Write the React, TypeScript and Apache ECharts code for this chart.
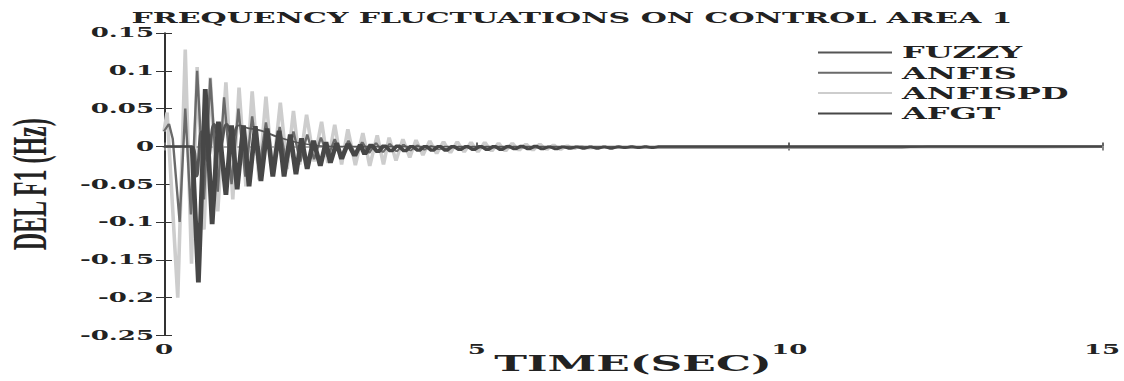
import React, { useEffect, useRef } from "react";
import * as echarts from "echarts";

const TITLE = "FREQUENCY FLUCTUATIONS ON CONTROL AREA 1";
const X_NAME = "TIME(SEC)";
const Y_NAME = "DEL F1 (Hz)";
const LEGEND_ORDER = ["FUZZY", "ANFIS", "ANFISPD", "AFGT"];

const anfispd: [number, number][] = [
  [0, 0.02], [0.05, 0.045], [0.22, -0.2], [0.34, 0.128], [0.44, -0.155], [0.53, 0.105],
  [0.64, -0.11], [0.74, 0.091], [0.86, -0.086], [0.99, 0.085], [1.1, -0.07], [1.2, 0.078],
  [1.31, -0.053], [1.41, 0.073], [1.52, -0.044], [1.63, 0.066], [1.74, -0.037], [1.86, 0.058],
  [1.97, -0.03], [2.07, 0.047], [2.17, -0.024], [2.28, 0.042], [2.4, -0.02], [2.52, 0.033],
  [2.62, -0.022], [2.73, 0.029], [2.84, -0.024], [2.94, 0.023], [3.06, -0.025], [3.18, 0.018],
  [3.29, -0.026], [3.41, 0.015], [3.51, -0.024], [3.6, 0.012], [3.71, -0.019], [3.82, 0.01],
  [3.93, -0.015], [4.03, 0.009], [4.14, -0.012], [4.25, 0.008], [4.36, -0.01], [4.47, 0.007],
  [4.58, -0.009], [4.69, 0.007], [4.8, -0.008], [4.91, 0.006], [5.02, -0.008], [5.13, 0.006],
  [5.24, -0.007], [5.35, 0.005], [5.46, -0.007], [5.57, 0.005], [5.68, -0.006], [5.79, 0.004],
  [5.9, -0.006], [6.01, 0.004], [6.12, -0.005], [6.23, 0.003], [6.34, -0.005], [6.45, 0.002],
  [6.56, -0.004], [6.67, 0.001], [6.78, -0.003], [7.0, -0.002], [14.0, -0.002], [15, -0.001],
];

const anfis: [number, number][] = [
  [0, 0.02], [0.08, 0.03], [0.14, 0.01], [0.25, -0.1], [0.34, 0.05], [0.43, -0.09], [0.53, 0.1],
  [0.64, -0.07], [0.74, 0.09], [0.86, -0.06], [0.96, 0.065], [1.08, -0.05], [1.19, 0.05],
  [1.3, -0.04], [1.41, 0.04], [1.52, -0.033], [1.63, 0.032], [1.74, -0.028], [1.85, 0.026],
  [1.96, -0.024], [2.07, 0.02], [2.18, -0.02], [2.29, 0.016], [2.4, -0.017], [2.51, 0.012],
  [2.62, -0.014], [2.73, 0.01], [2.84, -0.012], [2.95, 0.008], [3.06, -0.01], [3.17, 0.006],
  [3.28, -0.009], [3.39, 0.005], [3.5, -0.008], [3.61, 0.004], [3.72, -0.007], [3.83, 0.003],
  [3.94, -0.006], [4.05, 0.002], [4.16, -0.005], [4.27, 0.001], [4.38, -0.004], [4.6, -0.002],
  [11.8, -0.002], [12.2, 0], [15, 0],
];

const fuzzy: [number, number][] = [
  [0, 0], [0.45, 0], [0.52, -0.04], [0.6, 0.02], [0.7, -0.02], [0.8, 0.03], [0.9, 0.0],
  [1.0, 0.03], [1.1, 0.012], [1.2, 0.028], [1.35, 0.024], [1.5, 0.022], [1.65, 0.018],
  [1.8, 0.013], [2.0, 0.008], [2.2, 0.004], [2.45, 0.001], [2.7, 0], [15, 0],
];

const afgt: [number, number][] = [
  [0, 0], [0.45, 0], [0.55, -0.18], [0.66, 0.076], [0.77, -0.103], [0.87, 0.033], [0.99, -0.064],
  [1.08, 0.028], [1.17, -0.057], [1.27, 0.028], [1.36, -0.053], [1.46, 0.027], [1.55, -0.046],
  [1.65, 0.024], [1.74, -0.04], [1.84, 0.021], [1.92, -0.04], [2.02, 0.016], [2.11, -0.037],
  [2.2, 0.011], [2.29, -0.03], [2.39, 0.008], [2.5, -0.026], [2.59, 0.006], [2.66, -0.022],
  [2.76, 0.005], [2.84, -0.017], [2.94, 0.004], [3.05, -0.013], [3.14, 0.003], [3.21, -0.011],
  [3.31, 0.003], [3.42, -0.008], [3.52, 0.002], [3.63, -0.007], [3.74, 0.002], [3.85, -0.007],
  [3.96, 0.001], [4.07, -0.006], [4.18, 0.001], [4.29, -0.006], [4.4, 0.001], [4.51, -0.006],
  [4.62, 0.001], [4.73, -0.005], [4.84, 0.001], [4.95, -0.005], [5.06, 0.001], [5.17, -0.005],
  [5.28, 0.001], [5.39, -0.005], [5.5, 0.001], [5.61, -0.004], [5.72, 0.001], [5.83, -0.004],
  [5.94, 0.001], [6.05, -0.004], [6.16, 0.0], [6.27, -0.004], [6.38, 0.0], [6.49, -0.003],
  [6.6, 0.0], [6.71, -0.003], [6.82, 0.0], [6.93, -0.003], [7.04, 0.0], [7.15, -0.003],
  [7.26, 0.0], [7.37, -0.002], [7.48, 0.0], [7.59, -0.002], [7.7, 0.0], [7.81, -0.002],
  [7.92, 0.0], [8.1, 0], [15, 0],
];

const X_MIN = 0, X_MAX = 15, X_STEP = 5;
const Y_MIN = -0.25, Y_MAX = 0.15, Y_STEP = 0.05;

const SERIF = "DejaVu Serif";

export default function App() {
  const ref = useRef<HTMLDivElement>(null);
  useEffect(() => {
    if (!ref.current) return;
    const chart = echarts.init(ref.current, undefined, { renderer: "svg" });
    const labelStyle = { fontFamily: SERIF, fontWeight: "bold" as const, fontSize: 13, color: "#222" };
    const mk = (name: string, data: [number, number][], color: string, width: number, smooth: number | boolean) => ({
      name,
      type: "line",
      data,
      symbol: "none",
      smooth,
      lineStyle: { color, width },
      itemStyle: { color },
      xAxisIndex: 0,
      yAxisIndex: 0,
    });
    chart.setOption({
      animation: false,
      backgroundColor: "#fff",
      title: {
        text: TITLE,
        left: 286,
        top: 10,
        padding: 0,
        textAlign: "center",
        textStyle: { fontFamily: SERIF, fontWeight: "bold", fontSize: 15, color: "#222" },
      },
      legend: {
        data: LEGEND_ORDER,
        orient: "vertical",
        left: 409,
        top: 43,
        padding: 0,
        icon: "rect",
        itemWidth: 37,
        itemHeight: 2,
        itemGap: 1.3,
        textStyle: { fontFamily: SERIF, fontWeight: "bold", fontSize: 16, lineHeight: 19, color: "#222" },
      },
      grid: { left: 82, right: 11, top: 33, bottom: 45.5, containLabel: false, outerBoundsMode: "none" },
      xAxis: [
        {
          type: "value",
          min: X_MIN, max: X_MAX, interval: X_STEP,
          name: X_NAME,
          nameLocation: "middle",
          nameGap: 17,
          nameMoveOverlap: false,
          nameTextStyle: {
            fontFamily: SERIF, fontWeight: "bold", fontSize: 22, color: "#222",
            verticalAlign: "top",
          },
          axisLine: { lineStyle: { color: "#999", width: 1.5 } },
          axisTick: { inside: true, length: 4, lineStyle: { color: "#666" } },
          axisLabel: { ...labelStyle, margin: 8 },
          splitLine: { show: false },
        },
        {
          type: "value",
          position: "top",
          min: X_MIN, max: X_MAX, interval: X_STEP,
          axisLine: { show: true, lineStyle: { color: "#aaa", width: 1.5 } },
          axisTick: { inside: true, length: 4, lineStyle: { color: "#888" } },
          axisLabel: { show: false },
          splitLine: { show: false },
        },
      ],
      yAxis: [
        {
          type: "value",
          min: Y_MIN, max: Y_MAX, interval: Y_STEP,
          name: Y_NAME,
          nameLocation: "middle",
          nameGap: 55,
          nameTextStyle: { fontFamily: "Liberation Serif", fontWeight: "bold", fontSize: 24, color: "#222" },
          axisLine: { show: true, lineStyle: { color: "#333", width: 1 } },
          axisTick: { inside: true, length: 4, lineStyle: { color: "#333" } },
          axisLabel: { ...labelStyle, margin: 5 },
          splitLine: { show: false },
        },
        {
          type: "value",
          position: "right",
          min: Y_MIN, max: Y_MAX, interval: Y_STEP,
          axisLine: { show: true, lineStyle: { color: "#333", width: 1 } },
          axisTick: { inside: true, length: 4, lineStyle: { color: "#333" } },
          axisLabel: { show: false },
          splitLine: { show: false },
        },
      ],
      series: [
        mk("ANFISPD", anfispd, "#cdcdcd", 1.8, false),
        mk("ANFIS", anfis, "#6a6a6a", 1.2, false),
        mk("FUZZY", fuzzy, "#555555", 1.5, 0.4),
        mk("AFGT", afgt, "#474747", 2.4, false),
      ],
    });
    return () => chart.dispose();
  }, []);
  return (
    <div
      ref={ref}
      style={{
        position: "absolute",
        left: 0,
        top: 0,
        width: 562,
        height: 381,
        transform: "scaleX(2)",
        transformOrigin: "0 0",
      }}
    />
  );
}
